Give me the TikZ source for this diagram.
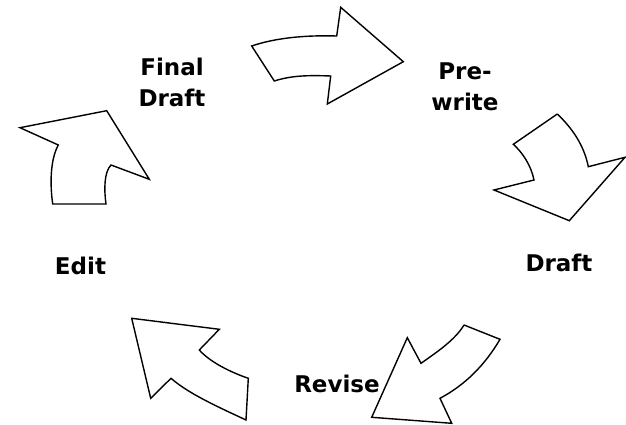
\documentclass[tikz,border=0pt]{standalone}
\usepackage{fontspec}
\setmainfont{DejaVu Sans}
\begin{document}
\begin{tikzpicture}[x=1pt,y=-1pt,
  cyc/.style={draw=black,line width=1.4pt,line join=miter,fill=white},
  lbl/.style={font=\bfseries\fontsize{23}{32}\selectfont,align=center,inner sep=0pt,anchor=base}]
\useasboundingbox (0,0) rectangle (626,425);
% top arrow: Final Draft -> Pre-write
\draw[cyc] (251.7,46) .. controls (275,38) and (305,35) .. (336.7,36)
  -- (340.7,7.3) -- (403.3,61.7) -- (327.3,104) -- (330.7,76)
  .. controls (305,75) and (290,76) .. (274.3,81) -- cycle;
% right arrow: Pre-write -> Draft
\draw[cyc] (557.3,114) -- (513.3,144.3)
  .. controls (522,152) and (531,165) .. (534,180)
  -- (494,190) -- (569.3,220.7) -- (625,157.3) -- (588.3,166.7)
  .. controls (584,145) and (572,128) .. (557.3,114);
% bottom right arrow: Draft -> Revise
\draw[cyc] (464,325) -- (500,339.3)
  .. controls (485,365) and (465,385) .. (440,398.3)
  -- (451.7,423.3) -- (371.7,417.3) -- (407.3,337.7) -- (421,363.3)
  .. controls (437,352) and (455,340) .. (464,325);
% bottom left arrow: Revise -> Edit
\draw[cyc] (131.7,318.3) -- (219.3,329.3) -- (199.3,350)
  .. controls (210,362) and (230,372) .. (248.3,378.3)
  -- (246,420)
  .. controls (225,410) and (190,395) .. (171,378.3)
  -- (150.7,398.3) -- cycle;
% left arrow: Edit -> Final Draft
\draw[cyc] (20,127.7) -- (106.7,110.7) -- (149.3,179.3) -- (111,165)
  .. controls (104,172) and (104,190) .. (106,204)
  -- (52.7,204)
  .. controls (50,185) and (50,160) .. (58.3,145) -- cycle;
% labels (base = baseline of last line)
\node[lbl] (final) at (172,107) {Final\\Draft};
\node[lbl] (pre) at (465,111) {Pre-\\write};
\node[lbl] (edit) at (80.5,274) {Edit};
\node[lbl] (draft) at (559,271) {Draft};
\node[lbl] (revise) at (337,392) {Revise};
\end{tikzpicture}
\end{document}
